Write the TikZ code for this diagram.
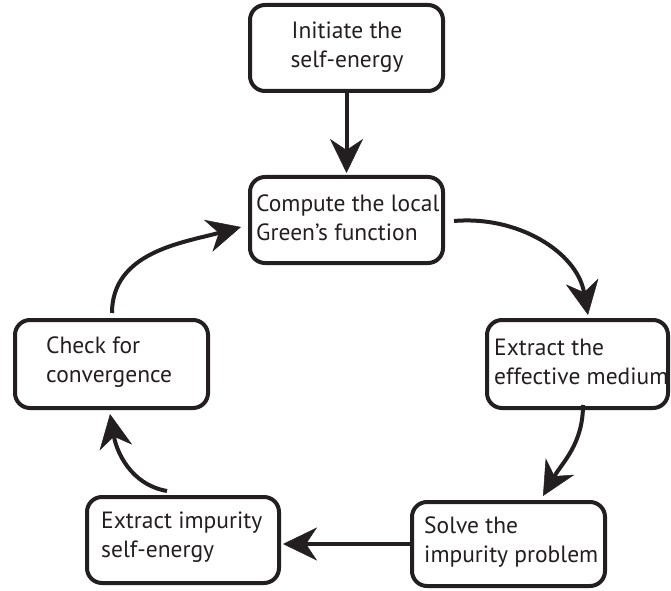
\documentclass[tikz,border=0pt]{standalone}
\usepackage{fontspec}
\setmainfont{PT Sans}
\usetikzlibrary{arrows.meta,calc}
\definecolor{ink}{HTML}{231F20}
\begin{document}
\begin{tikzpicture}[x=1pt,y=1pt,
  box/.style={draw=ink, line width=4pt, rounded corners=15pt, inner sep=0pt, fill=white},
  txt/.style={font=\fontsize{23.5}{29}\selectfont, align=left, inner sep=0pt, text=ink},
  conn/.style={line width=4pt, draw=ink, -{Stealth[length=34pt,width=33pt,inset=11pt,line width=0.5pt]}}]
\useasboundingbox (0,0) rectangle (671,590);
% boxes
\node[box, minimum width=193pt, minimum height=86pt] (init) at (346.5,542) {};
\node[box, minimum width=193pt, minimum height=86pt] (comp) at (346.5,370) {};
\node[box, minimum width=181pt, minimum height=88pt] (eff) at (577.5,226) {};
\node[box, minimum width=193pt, minimum height=84pt] (solve) at (508.5,46) {};
\node[box, minimum width=192pt, minimum height=86pt] (imp) at (183,50) {};
\node[box, minimum width=193pt, minimum height=88pt] (check) at (111.5,226) {};
% texts
\node[txt, align=center] (initT) at (347,543) {Initiate the\\self-energy};
\node[txt, anchor=west] (compT) at (256,372) {Compute the local\\Green’s function};
\node[txt, anchor=west] (effT) at (494,228) {Extract the\\effective medium};
\node[txt, anchor=west] (solveT) at (424,48) {Solve the\\impurity problem};
\node[txt, anchor=west] (impT) at (101,53) {Extract impurity\\self-energy};
\node[txt, anchor=west] (checkT) at (46,228) {Check for\\convergence};
% connectors
\draw[conn, shorten >=2pt] (init.south) -- (comp.north);
\draw[conn] ($(comp.east)+(9,-1)$) to[out=5,in=100] ($(eff.north)+(10.5,3)$);
\draw[conn] ($(eff.south)+(5.5,5)$) to[out=-90,in=60] ($(solve.north)+(34.5,4)$);
\draw[conn, shorten >=2pt] (solve.west) -- (solve.west -| imp.east);
\draw[conn] ($(imp.north)+(-16,4)$) to[out=170,in=-80] ($(check.south)+(-1.5,-4)$);
\draw[conn] ($(check.north)+(0.5,5)$) to[out=90,in=195] ($(comp.west)+(-7,-7)$);
\end{tikzpicture}
\end{document}
